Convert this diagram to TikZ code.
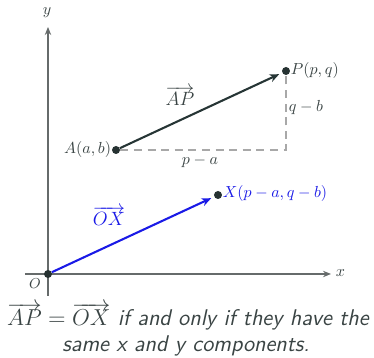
\documentclass[tikz,border=0pt]{standalone}
\usetikzlibrary{arrows.meta}
\definecolor{axisgray}{HTML}{666B6B}
\definecolor{darkvec}{HTML}{263535}
\definecolor{dotcol}{HTML}{263232}
\definecolor{dashgray}{HTML}{A8A8A8}
\definecolor{labgray}{HTML}{3A4444}
\definecolor{bluevec}{HTML}{1A1AE6}
\begin{document}
\begin{tikzpicture}[x=0.625pt,y=-0.625pt,
  axis/.style={draw=axisgray,line width=0.8pt,-{Stealth[length=5pt,width=4pt]}},
  vec/.style={line width=1.3pt,-{Stealth[length=6pt,width=5pt]},shorten >=2pt},
  dot/.style={circle,fill=dotcol,inner sep=0pt,minimum size=5pt},
  lab/.style={text=labgray,inner sep=1pt},
  dashline/.style={draw=dashgray,line width=0.8pt,dash pattern=on 5pt off 3.5pt}]
\useasboundingbox (0,0) rectangle (374,358);
% axes
\coordinate (xs) at (25,274);
\coordinate (xe) at (331,274);
\coordinate (ys) at (48,296);
\coordinate (ye) at (48,27);
\draw[axis] (xs) -- (xe);
\draw[axis] (ys) -- (ye);
\node[lab,anchor=west] (xl) at (334,273) {$x$};
\node[lab] (yl) at (47,13) {$y$};
% points
\node[dot] (O) at (48,274) {};
\node[dot] (A) at (116,150) {};
\node[dot] (P) at (286,71) {};
\node[dot] (X) at (218,195) {};
\coordinate (C) at (286,150);
\node[lab,inner sep=0pt] (Ol) at (35,284) {\small$O$};
\node[lab,anchor=east] (Al) at (113,150) {$A(a,b)$};
\node[lab,anchor=west] (Pl) at (289,71) {$P(p,q)$};
\node[text=bluevec,anchor=west,inner sep=1pt] (Xl) at (221,194) {$X(p-a,q-b)$};
% dashed components
\draw[dashline] (A) -- (C) -- (P);
\node[lab] (pa) at (200,161) {$p-a$};
\node[lab] (qb) at (306,108) {$q-b$};
% vectors
\draw[vec,draw=darkvec] (A) -- (P);
\draw[vec,draw=bluevec] (O) -- (X);
\node[lab] (APl) at (180,96) {\large$\overrightarrow{AP}$};
\node[text=bluevec,inner sep=1pt] (OXl) at (109,216) {\large$\overrightarrow{OX}$};
% caption
\node[text=labgray,inner sep=0pt] (cap1) at (188,317) {\fontsize{14.2}{17}\selectfont$\overrightarrow{AP}=\overrightarrow{OX}$ \sffamily\itshape if and only if they have the};
\node[text=labgray,inner sep=0pt] (cap2) at (186,346) {\fontsize{14.2}{17}\selectfont\sffamily\itshape same x and y components.};
\end{tikzpicture}
\end{document}
